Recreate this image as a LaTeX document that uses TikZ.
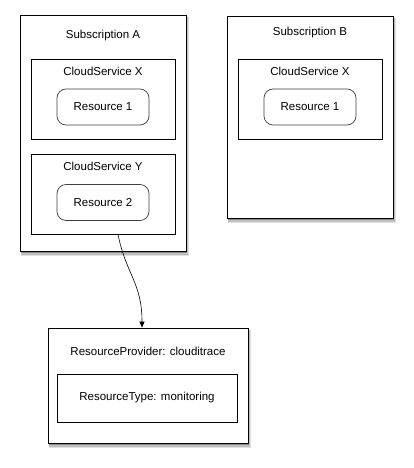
\documentclass[tikz,border=0pt]{standalone}
\usepackage{fontspec}
\setmainfont{Liberation Sans}
\usepackage{tikz}
\usetikzlibrary{arrows.meta,positioning}

\begin{document}
\begin{tikzpicture}[
  x=1pt,y=-1pt,
  font=\fontsize{11.5}{13}\selectfont,
  outer/.style={draw,fill=white,line width=0.8pt,inner sep=0pt},
  shade1/.style={fill=black!12},
  shade2/.style={fill=black!25},
  shade3/.style={fill=black!45},
  service/.style={draw,fill=white,line width=0.7pt,minimum width=144pt,minimum height=80pt,inner sep=0pt},
  res/.style={draw=black!75,fill=white,line width=0.7pt,rounded corners=9pt,minimum width=92pt,minimum height=36pt,inner sep=0pt},
  arr/.style={-{Triangle[length=6pt,width=5pt]},line width=0.6pt}
]
\fill[white] (0,0) rectangle (413,468);
\useasboundingbox (0,0) rectangle (413,468);
% shadows
\foreach \l/\t/\r/\b in {20/15/186/251, 227/16/393/218, 48/328/248/443} {
  \fill[shade1] (\l+1,\t+2) rectangle (\r+3,\b+5);
  \fill[shade2] (\l+1,\t+2) rectangle (\r+2,\b+3.5);
  \fill[shade3] (\l+1,\t+2) rectangle (\r+1,\b+2);
}
% subscriptions
\node[outer,minimum width=166pt,minimum height=236pt] (subA) at (103,133) {};
\node[outer,minimum width=166pt,minimum height=202pt] (subB) at (310,117) {};
\node (subAlbl) at (103,36) {Subscription A};
\node (subBlbl) at (310,33) {Subscription B};
% cloud services in A
\node[service] (csXa) at (103,99) {};
\node (csXalbl) at (103,71) {CloudService X};
\node[res] (resA1) at (103,107) {Resource 1};
\node[service] (csY) at (103,194) {};
\node (csYlbl) at (103,166) {CloudService Y};
\node[res] (res2) at (103,202.5) {Resource 2};
% cloud service in B
\node[service] (csXb) at (310,99) {};
\node (csXblbl) at (310,71) {CloudService X};
\node[res] (resB1) at (310,107) {Resource 1};
% provider
\node[outer,minimum width=200pt,minimum height=115pt] (prov) at (148,385.5) {};
\node (provlbl) at (148,351) {ResourceProvider: clouditrace};
\node[draw,line width=0.7pt,minimum width=180pt,minimum height=48pt,inner sep=0pt] (rtype) at (147,398) {ResourceType: monitoring};
\draw[arr] ([xshift=15pt]csY.south) .. controls +(8,40) and +(0,-45) .. ([xshift=-6pt]prov.north);
\end{tikzpicture}
\end{document}
